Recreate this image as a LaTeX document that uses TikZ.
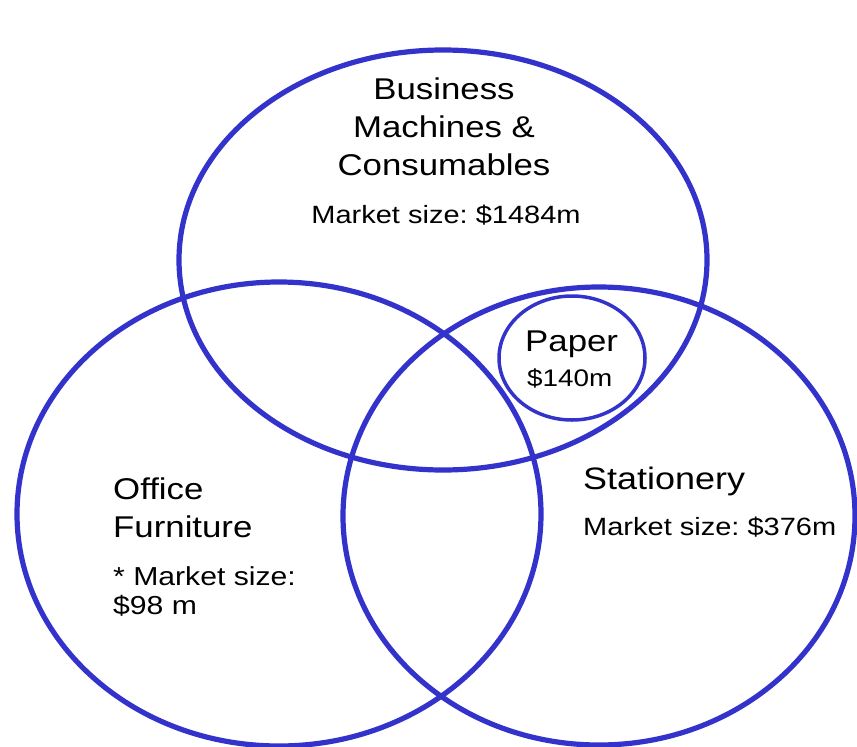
\documentclass[tikz,border=0pt]{standalone}
\usepackage{fontspec}
\setmainfont{Liberation Sans}[FakeStretch=1.16]
\frenchspacing
\usetikzlibrary{shapes.geometric}
\definecolor{setBlue}{RGB}{51,51,204}

\begin{document}
\begin{tikzpicture}
        [x=1pt, y=-1pt,
        set/.style={ellipse, draw=setBlue, line width=5.2pt, inner sep=0pt},
        setSmall/.style={ellipse, draw=setBlue, line width=3.5pt, inner sep=0pt},
        setTitle/.style={font=\fontsize{30}{38}\selectfont, inner sep=0pt, anchor=base west, align=left},
        setInfo/.style={font=\fontsize{25}{29}\selectfont, inner sep=0pt, anchor=base west, align=left}]
        \useasboundingbox (0,0) rectangle (857,747);

        \node[set, minimum width=528pt, minimum height=420pt] (BM) at (443,260) {};
        \node[set, minimum width=524pt, minimum height=464pt] (OF) at (279,514) {};
        \node[set, minimum width=512pt, minimum height=458pt] (ST) at (599,516) {};
        \node[setSmall, minimum width=146pt, minimum height=124pt] (PP) at (572,358) {};

        % multi-line nodes sit on the baseline of their last line
        \node[setTitle, anchor=base, align=center] (bmTitle) at (444,175) {Business\\Machines \&\\Consumables};
        \node[setInfo, anchor=base] (bmSize) at (446,223) {Market size: \$1484m};

        \node[setTitle] (ppTitle) at (525,351) {Paper};
        \node[setInfo, font=\fontsize{24}{29}\selectfont] (ppSize) at (527,386) {\$140m};

        \node[setTitle] (ofTitle) at (113,537) {Office\\Furniture};
        \node[setInfo, font=\fontsize{26}{29}\selectfont] (ofSize) at (113,614) {* Market size:\\\$98 m};

        \node[setTitle, font=\fontsize{31}{38}\selectfont] (stTitle) at (583,489) {Stationery};
        \node[setInfo] (stSize) at (583,535) {Market size: \$376m};

    \end{tikzpicture}
\end{document}
